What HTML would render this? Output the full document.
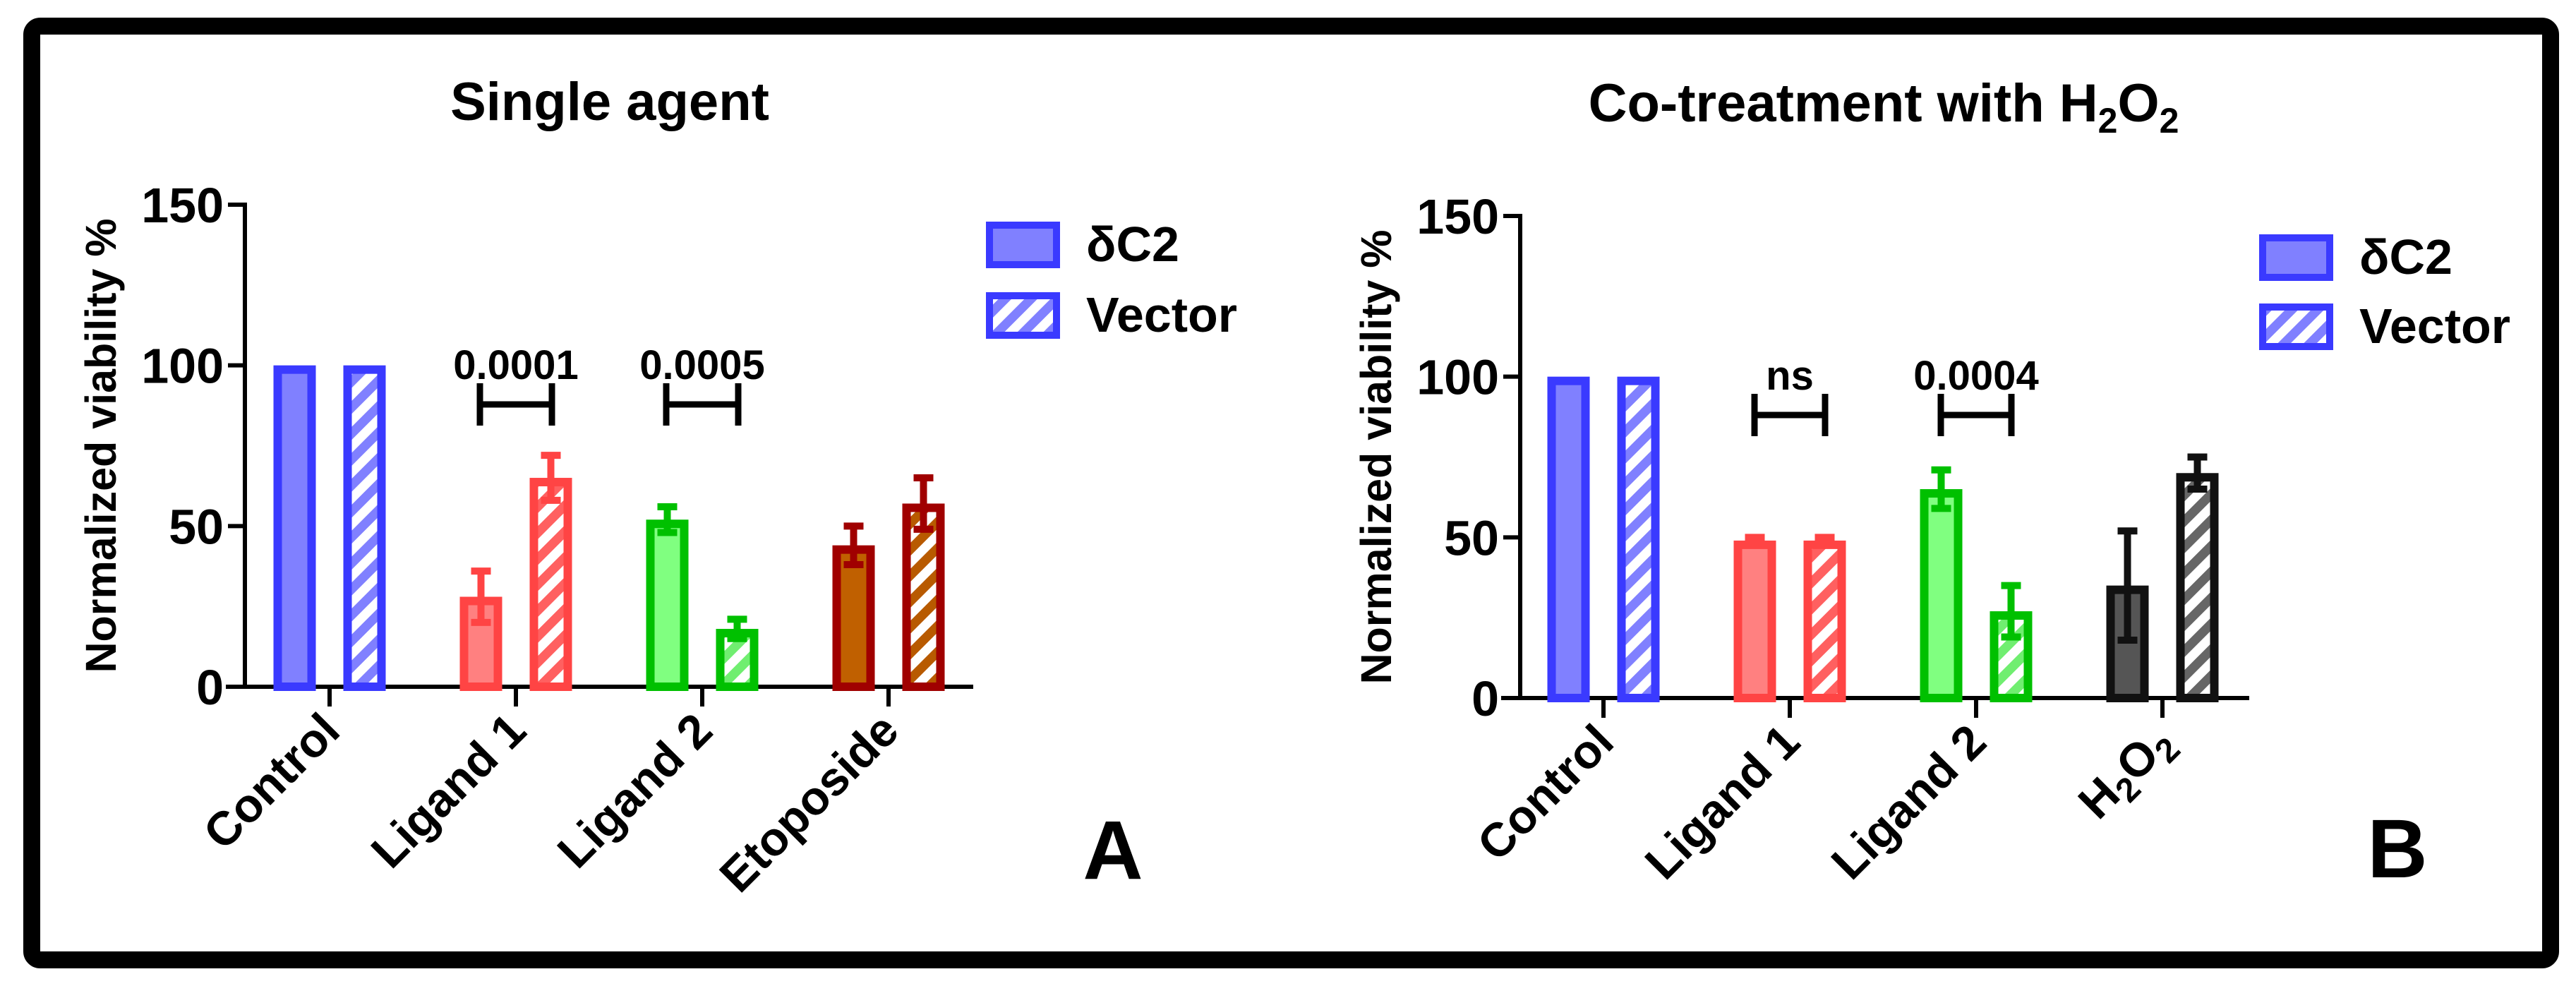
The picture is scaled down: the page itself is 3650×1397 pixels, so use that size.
<!DOCTYPE html>
<html><head><meta charset="utf-8"><style>
html,body{margin:0;padding:0;background:#fff;}
svg{display:block;font-family:"Liberation Sans",Arial,sans-serif;font-weight:bold;}
</style></head><body>
<svg id="fig" width="3650" height="1397" viewBox="0 0 3650 1397">
<defs>
<pattern id="hb" patternUnits="userSpaceOnUse" width="26" height="26" patternTransform="rotate(45)"><rect width="26" height="26" fill="#fff"/><rect width="13" height="26" fill="#8080ff"/></pattern>
<pattern id="hr" patternUnits="userSpaceOnUse" width="26" height="26" patternTransform="rotate(45)"><rect width="26" height="26" fill="#fff"/><rect width="13" height="26" fill="#ff6060"/></pattern>
<pattern id="hg" patternUnits="userSpaceOnUse" width="26" height="26" patternTransform="rotate(45)"><rect width="26" height="26" fill="#fff"/><rect width="13" height="26" fill="#70ee70"/></pattern>
<pattern id="hbr" patternUnits="userSpaceOnUse" width="26" height="26" patternTransform="rotate(45)"><rect width="26" height="26" fill="#fff"/><rect width="13" height="26" fill="#b85a00"/></pattern>
<pattern id="hk" patternUnits="userSpaceOnUse" width="26" height="26" patternTransform="rotate(45)"><rect width="26" height="26" fill="#fff"/><rect width="13" height="26" fill="#666"/></pattern>
</defs>
<rect x="45" y="37" width="3569" height="1323" rx="12" fill="none" stroke="#000" stroke-width="24"/>
<g id="chartA"></g>
<g id="chartB"></g>
</svg>
<script>
const catsA = ["Control","Ligand 1","Ligand 2","Etoposide"];
const dc2A = [100,28,52,44];
const dc2ErrA = [0,8,4,6];
const vecA = [100,65,18,57];
const vecErrA = [0,7,3,8];
const sigA = [{g:1,label:"0.0001"},{g:2,label:"0.0005"}];

const catsB = ["Control","Ligand 1","Ligand 2","H2O2"];
const dc2B = [100,49,65,35];
const dc2ErrB = [0,1,6,17];
const vecB = [100,49,27,70];
const vecErrB = [0,1,8,5];
const sigB = [{g:1,label:"ns"},{g:2,label:"0.0004"}];

const yTicks = [0,50,100,150];

const NS="http://www.w3.org/2000/svg";
function mk(parent,tag,attrs,text){const e=document.createElementNS(NS,tag);for(const k in attrs)e.setAttribute(k,attrs[k]);if(text!==undefined)e.textContent=text;parent.appendChild(e);return e;}

const colors=[
 {fill:"#8080ff",stroke:"#3a3aff",hatch:"url(#hb)",err:"#3a3aff"},
 {fill:"#ff8080",stroke:"#ff4444",hatch:"url(#hr)",err:"#ff4444"},
 {fill:"#80ff80",stroke:"#00c000",hatch:"url(#hg)",err:"#00c000"},
 {fill:"#c06000",stroke:"#a00000",hatch:"url(#hbr)",err:"#a00000"}];
const colorsB=[colors[0],colors[1],colors[2],{fill:"#555",stroke:"#111",hatch:"url(#hk)",err:"#111"}];

function draw(g,cfg){
 const yS=v=>cfg.y0-(v/150)*(cfg.y0-cfg.yTop);
 const t=mk(g,"text",{x:cfg.titleX,y:cfg.titleY,"text-anchor":"middle","font-size":76});
 
 
 if(cfg.h2o2Title){t.appendChild(document.createTextNode("Co-treatment with H"));mk(t,"tspan",{"font-size":50,dy:16},"2");mk(t,"tspan",{dy:-16},"O");mk(t,"tspan",{"font-size":50,dy:16},"2");}
 else t.textContent="Single agent";
 const ya=mk(g,"line",{x1:cfg.ax,y1:cfg.yTop-3,x2:cfg.ax,y2:cfg.y0+3,stroke:"#000","stroke-width":6});
 
 
 yTicks.forEach(v=>{
  const tk=mk(g,"line",{x1:cfg.ax-24,y1:yS(v),x2:cfg.ax,y2:yS(v),stroke:"#000","stroke-width":6});
  
  
  const tl=mk(g,"text",{x:cfg.ax-30,y:yS(v)+25,"text-anchor":"end","font-size":70},String(v));
  
  
 });
 const yt=mk(g,"text",{x:0,y:0,"text-anchor":"middle","font-size":61,transform:`translate(${cfg.ax-183},${(cfg.y0+cfg.yTop)/2}) rotate(-90)`},"Normalized viability %");
 
 
 const xa=mk(g,"line",{x1:cfg.ax-27,y1:cfg.y0,x2:cfg.xEnd,y2:cfg.y0,stroke:"#000","stroke-width":6});
 
 
 const bw=60, sw=12;
 cfg.cats.forEach((c,i)=>{
  const cx=cfg.ax+cfg.first+i*cfg.step;
  const tk=mk(g,"line",{x1:cx,y1:cfg.y0,x2:cx,y2:cfg.y0+28,stroke:"#000","stroke-width":6});
  
  
  const lab=mk(g,"text",{x:0,y:0,"text-anchor":"end","font-size":67,transform:`translate(${cx+18},${cfg.y0+66}) rotate(-45)`});
  
  
  if(c==="H2O2"){lab.appendChild(document.createTextNode("H"));mk(lab,"tspan",{"font-size":48,dy:14},"2");mk(lab,"tspan",{dy:-14},"O");mk(lab,"tspan",{"font-size":48,dy:14},"2");}
  else lab.textContent=c;
  const col=cfg.colors[i];
  [[cfg.dc2[i],cfg.dc2Err[i],-1,col.fill,'bar-dc2'],[cfg.vec[i],cfg.vecErr[i],1,col.hatch,'bar-vector']].forEach(([v,e,s,fill,nm])=>{
   const bx=cx+s*49.5-bw/2;
   const r=mk(g,"rect",{x:bx+sw/2,y:yS(v)+sw/2,width:bw-sw,height:Math.max(0,cfg.y0-yS(v)-sw/2),fill:fill,stroke:col.stroke,"stroke-width":sw});
   
   
   if(e>0){
    const ex=cx+s*49.5;
    const eb=mk(g,"path",{d:`M${ex},${yS(v-e)} L${ex},${yS(v+e)} M${ex-14},${yS(v+e)} L${ex+14},${yS(v+e)} M${ex-14},${yS(v-e)} L${ex+14},${yS(v-e)}`,stroke:col.err,"stroke-width":10,fill:"none"});
    
    
   }
  });
 });
 cfg.sig.forEach(sg=>{
  const cx=cfg.ax+cfg.first+sg.g*cfg.step;
  const x1=cx-cfg.brW/2,x2=cx+cfg.brW/2,yb=cfg.brY;
  const br=mk(g,"path",{d:`M${x1},${yb-30} L${x1},${yb+30} M${x1},${yb} L${x2},${yb} M${x2},${yb-30} L${x2},${yb+30}`,stroke:"#000","stroke-width":9,fill:"none"});
  
  
  const st=mk(g,"text",{x:cx,y:yb-36,"text-anchor":"middle","font-size":58},sg.label);
  
  
 });
 const lg=mk(g,"g",{});
 
 
 [["δC2","#8080ff",0],["Vector","url(#hb)",1]].forEach(([txt,f,k])=>{
  const y=cfg.legY+k*cfg.legStep;
  const r=mk(lg,"rect",{x:cfg.legX+5,y:y+5,width:95,height:56,fill:f,stroke:"#3a3aff","stroke-width":10});
  
  
  const tx=mk(lg,"text",{x:cfg.legX+142,y:y+56,"font-size":70},txt);
  
  
 });
 const pl=mk(g,"text",{x:cfg.panelX,y:cfg.panelY,"font-size":118,"text-anchor":"middle"},cfg.panel);
 
 
}
draw(document.getElementById("chartA"),{cats:catsA,dc2:dc2A,dc2Err:dc2ErrA,vec:vecA,vecErr:vecErrA,sig:sigA,colors:colors,
 ax:347,y0:973,yTop:290,xEnd:1379,first:120,step:264,titleX:864,titleY:170,brY:573,brW:102,
 legX:1397,legY:314,legStep:100,panel:"A",panelX:1577,panelY:1245});
draw(document.getElementById("chartB"),{cats:catsB,dc2:dc2B,dc2Err:dc2ErrB,vec:vecB,vecErr:vecErrB,sig:sigB,colors:colorsB,h2o2Title:true,
 ax:2154,y0:989,yTop:306,xEnd:3187,first:118,step:264,titleX:2669,titleY:172,brY:588,brW:100,
 legX:3201,legY:332,legStep:98,panel:"B",panelX:3397,panelY:1243});
</script>
</body></html>
